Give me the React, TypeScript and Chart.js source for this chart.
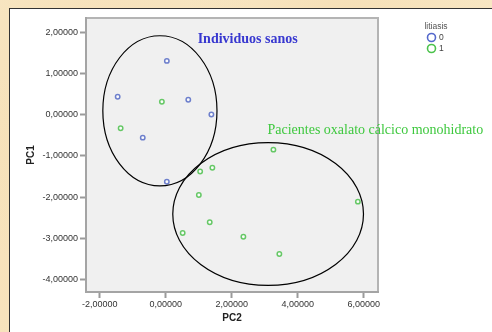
import React, { useEffect, useRef } from "react";
import { Chart, registerables } from "chart.js";

Chart.register(...registerables);

// ---- data ----
const groupLabels = ["0", "1"];
const sanosX = [0.03, -1.46, 0.68, 1.38, -0.7, 0.03];
const sanosY = [1.3, 0.43, 0.36, 0.0, -0.56, -1.63];
const litiasisX = [-0.12, -1.37, 3.26, 1.04, 1.41, 1.0, 5.82, 1.33, 0.51, 2.35, 3.44];
const litiasisY = [0.31, -0.33, -0.85, -1.38, -1.29, -1.95, -2.11, -2.61, -2.87, -2.96, -3.38];
const legendTitle = "litiasis";
const xTitle = "PC2";
const yTitle = "PC1";
// cluster ellipses in data units: center x, center y, radius x, radius y
const ellipseCx = [-0.18, 3.1];
const ellipseCy = [0.09, -2.41];
const ellipseRx = [1.73, 2.89];
const ellipseRy = [1.82, 1.73];
const noteTexts = ["Individuos sanos", "Pacientes oxalato cálcico monohidrato"];
const noteX = [2.48, 3.08];
const noteY = [1.82, -0.37];

const fmt = (v: number) => Number(v).toFixed(5).replace(".", ",");

const BLUE = "#6d7fcc";
const GREEN = "#66c866";

const plotBg = {
  id: "plotBg",
  beforeDraw(chart: any) {
    const { ctx, chartArea: a } = chart;
    ctx.save();
    ctx.fillStyle = "#f0f0f0";
    ctx.fillRect(a.left, a.top, a.right - a.left, a.bottom - a.top);
    ctx.strokeStyle = "#b4b4b4";
    ctx.lineWidth = 2;
    ctx.strokeRect(a.left, a.top, a.right - a.left, a.bottom - a.top);
    ctx.restore();
  },
};

const overlays = {
  id: "overlays",
  afterDatasetsDraw(chart: any) {
    const { ctx, scales, chartArea: a } = chart;
    const xs = scales.x;
    const ys = scales.y;
    ctx.save();
    // ellipses
    ctx.strokeStyle = "#000";
    ctx.lineWidth = 1.2;
    for (let i = 0; i < ellipseCx.length; i++) {
      const cx = xs.getPixelForValue(ellipseCx[i]);
      const cy = ys.getPixelForValue(ellipseCy[i]);
      const rx = Math.abs(xs.getPixelForValue(ellipseCx[i] + ellipseRx[i]) - cx);
      const ry = Math.abs(ys.getPixelForValue(ellipseCy[i] + ellipseRy[i]) - cy);
      ctx.beginPath();
      ctx.ellipse(cx, cy, rx, ry, 0, 0, Math.PI * 2);
      ctx.stroke();
    }
    // notes
    ctx.textBaseline = "middle";
    ctx.font = "bold 14px 'Liberation Serif', 'Times New Roman', serif";
    ctx.fillStyle = "#3838d0";
    ctx.textAlign = "center";
    ctx.fillText(noteTexts[0], xs.getPixelForValue(noteX[0]), ys.getPixelForValue(noteY[0]));
    ctx.font = "14px 'Liberation Serif', 'Times New Roman', serif";
    ctx.fillStyle = "#3ec83e";
    ctx.textAlign = "left";
    ctx.fillText(noteTexts[1], xs.getPixelForValue(noteX[1]), ys.getPixelForValue(noteY[1]));

    // legend
    const lx = a.right + 58;
    ctx.font = "8.5px 'Liberation Sans', Arial, sans-serif";
    ctx.fillStyle = "#555";
    ctx.textAlign = "center";
    ctx.fillText(legendTitle, lx, 27);
    const cols = [BLUE, GREEN];
    chart.data.datasets.forEach((ds: any, i: number) => {
      const cy = 37.5 + i * 11;
      ctx.beginPath();
      ctx.arc(lx - 4.5, cy, 4, 0, Math.PI * 2);
      ctx.strokeStyle = i === 0 ? "#5468cc" : "#4cc24c";
      ctx.lineWidth = 1.6;
      ctx.stroke();
      ctx.fillStyle = "#444";
      ctx.textAlign = "left";
      ctx.font = "8.5px 'Liberation Sans', Arial, sans-serif";
      ctx.fillText(ds.label, lx + 3, cy + 0.5);
    });
    void cols;
    ctx.restore();
  },
};

export default function App() {
  const ref = useRef<HTMLCanvasElement>(null);
  useEffect(() => {
    const c = ref.current;
    if (!c) return;
    const tickFont = { size: 9, family: "'Liberation Sans', Arial, sans-serif" };
    const chart = new Chart(c, {
      type: "scatter",
      data: {
        datasets: [
          {
            label: groupLabels[0],
            data: sanosX.map((x, i) => ({ x, y: sanosY[i] })),
            borderColor: BLUE,
            backgroundColor: "rgba(255,255,255,0.7)",
            pointRadius: 2.2,
            borderWidth: 1.5,
          },
          {
            label: groupLabels[1],
            data: litiasisX.map((x, i) => ({ x, y: litiasisY[i] })),
            borderColor: GREEN,
            backgroundColor: "rgba(255,255,255,0.7)",
            pointRadius: 2.2,
            borderWidth: 1.5,
          },
        ],
      },
      options: {
        animation: false,
        responsive: false,
        layout: { padding: { top: 18, right: 114, left: 0, bottom: 0 } },
        plugins: { legend: { display: false }, tooltip: { enabled: false } },
        scales: {
          x: {
            type: "linear",
            min: -2.42,
            max: 6.43,
            afterFit: (s: any) => {
              s.height = 40;
            },
            ticks: {
              stepSize: 2,
              includeBounds: false,
              callback: (v: any) => fmt(v),
              font: tickFont,
              color: "#333",
              padding: 1,
              maxRotation: 0,
            },
            grid: {
              drawOnChartArea: false,
              drawTicks: true,
              tickLength: 6,
              tickColor: "#9a9a9a",
              tickWidth: 2,
            },
            border: { display: true, color: "#a4a4a4", width: 2 },
            title: {
              display: true,
              text: xTitle,
              color: "#222",
              font: { size: 10, weight: "bold", family: "'Liberation Sans', Arial, sans-serif" },
              padding: { top: 0, bottom: 8 },
            },
          },
          y: {
            type: "linear",
            min: -4.3,
            max: 2.34,
            afterFit: (s: any) => {
              s.width = 86;
            },
            ticks: {
              stepSize: 1,
              includeBounds: false,
              callback: (v: any) => fmt(v),
              font: tickFont,
              color: "#333",
              padding: 2,
            },
            grid: {
              drawOnChartArea: false,
              drawTicks: true,
              tickLength: 6,
              tickColor: "#9a9a9a",
              tickWidth: 2,
            },
            border: { display: true, color: "#a4a4a4", width: 2 },
            title: {
              display: true,
              text: yTitle,
              color: "#222",
              font: { size: 10, weight: "bold", family: "'Liberation Sans', Arial, sans-serif" },
              padding: { top: 25, bottom: 0 },
            },
          },
        },
      } as any,
      plugins: [plotBg, overlays],
    });
    return () => chart.destroy();
  }, []);

  return (
    <div
      style={{
        position: "fixed",
        left: 0,
        top: 0,
        width: 492,
        height: 332,
        overflow: "hidden",
        background:
          "radial-gradient(circle at 20% 30%, rgba(240,205,150,0.35), transparent 40%), radial-gradient(circle at 70% 10%, rgba(240,205,150,0.3), transparent 35%), radial-gradient(circle at 10% 85%, rgba(245,215,165,0.35), transparent 40%), #f8e7c4",
      }}
    >
      <div
        style={{
          position: "absolute",
          left: 9,
          top: 8,
          width: 492 - 9,
          height: 332 - 8,
          background: "#fff",
          borderLeft: "1px solid #333",
          borderTop: "1px solid #333",
          boxSizing: "border-box",
        }}
      />
      <canvas
        ref={ref}
        width={492}
        height={332}
        style={{ position: "absolute", left: 0, top: 0, width: 492, height: 332 }}
      />
    </div>
  );
}
